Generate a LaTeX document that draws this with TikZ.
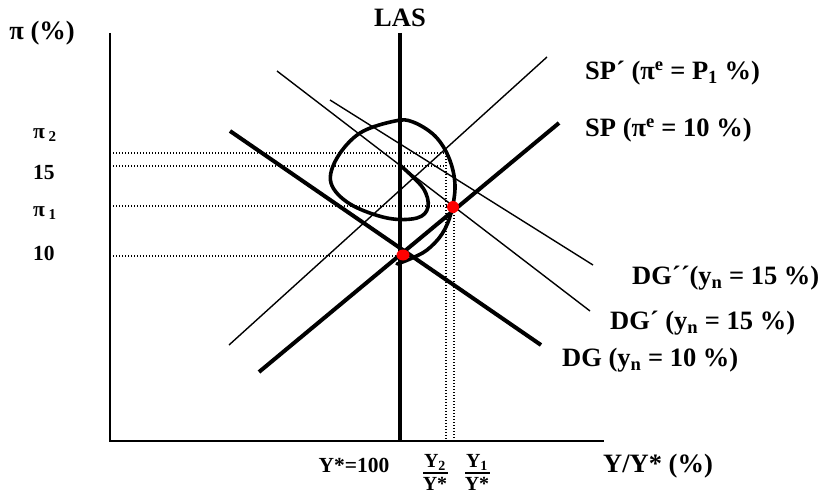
\documentclass[tikz,border=0pt]{standalone}
\usepackage{fontspec}
\setmainfont{Liberation Serif}
\begin{document}
\begin{tikzpicture}[x=1pt,y=-1pt,
  axis/.style={line width=2.2pt},
  thickline/.style={line width=4pt},
  thinline/.style={line width=1.4pt},
  dotline/.style={line width=1.3pt,dash pattern=on 1.3pt off 1.7pt},
  biglab/.style={font=\bfseries\fontsize{26.5}{30}\selectfont,inner sep=0pt},
  ticklab/.style={font=\bfseries\fontsize{21.5}{24}\selectfont,inner sep=0pt},
  fraclab/.style={font=\bfseries\fontsize{20}{22}\selectfont,inner sep=0pt},
  fracbar/.style={line width=1.6pt},
  reddot/.style={fill=red}]
\useasboundingbox (0,0) rectangle (819,495);

% axes
\coordinate (ytop) at (110,33);
\coordinate (orig) at (110,441);
\coordinate (xend) at (604,441);
\draw[axis] (ytop) -- (orig) -- (xend);

% LAS
\coordinate (lasT) at (400,33);
\coordinate (lasB) at (400,441);
\draw[thickline] (lasT) -- (lasB);

% dotted guides
\coordinate (p2L) at (113,153); \coordinate (p2R) at (446,153);
\coordinate (f15L) at (113,166); \coordinate (f15R) at (446,166);
\coordinate (p1L) at (113,206); \coordinate (p1R) at (454,206);
\coordinate (t10L) at (113,256); \coordinate (t10R) at (400,256);
\draw[dotline] (p2L) -- (p2R);
\draw[dotline] (f15L) -- (f15R);
\draw[dotline] (p1L) -- (p1R);
\draw[dotline] (t10L) -- (t10R);
\coordinate (y2B) at (446,439); \coordinate (y1B) at (454,439);
\draw[dotline] (p2R) -- (y2B);
\draw[dotline] (p1R) -- (y1B);

% SP curves
\coordinate (spA) at (259,372); \coordinate (spB) at (559,123);
\draw[thickline] (spA) -- (spB);
\coordinate (sppA) at (229,345); \coordinate (sppB) at (547,57);
\draw[thinline] (sppA) -- (sppB);

% DG curves
\coordinate (dgA) at (230,131); \coordinate (dgB) at (541,345);
\draw[thickline] (dgA) -- (dgB);
\coordinate (dgpA) at (277,71); \coordinate (dgpB) at (590,311);
\draw[thinline] (dgpA) -- (dgpB);
\coordinate (dgppA) at (330,100); \coordinate (dgppB) at (593,265);
\draw[thinline] (dgppA) -- (dgppB);

% loop
\draw[line width=3.6pt,line join=round,line cap=round] plot[smooth,tension=0.6] coordinates {
 (401,166) (423,188) (428,207) (417,218) (387,218) (350,204) (331,183)
 (337,158) (360,133) (395,121) (413,122) (435,136) (449,158) (455,185)
 (451,213) (442,234) (427,250) (410,259) (397,264)};

% red points
\fill[reddot] (403,255) ellipse (6.5 and 5.5);
\fill[reddot] (453,207) ellipse (6 and 6);

% labels
\node[biglab] (pilab) at (42,33) {π (\%)};
\node[biglab] (laslab) at (400,18) {LAS};
\node[ticklab,anchor=west] (pi2) at (33,135) {π\,\textsubscript{2}};
\node[ticklab,anchor=west] (l15) at (33,173) {15};
\node[ticklab,anchor=west] (pi1) at (33,213) {π\,\textsubscript{1}};
\node[ticklab,anchor=west] (l10) at (33,253) {10};

\node[biglab,anchor=west] (splp) at (585,73) {SP´ (π\textsuperscript{e} = P\textsubscript{1} \%)};
\node[biglab,anchor=west] (spl) at (585,130) {SP (π\textsuperscript{e} = 10 \%)};
\node[biglab,anchor=west] (dgpp) at (632,278) {DG´´(y\textsubscript{n} = 15 \%)};
\node[biglab,anchor=west] (dgp) at (610,323) {DG´ (y\textsubscript{n} = 15 \%)};
\node[biglab,anchor=west] (dgl) at (562,360) {DG (y\textsubscript{n} = 10 \%)};

\node[ticklab] (ystar) at (354,465) {Y*=100};
% fractions Y2/Y* and Y1/Y*
\coordinate (b2L) at (423,473); \coordinate (b2R) at (448,473);
\coordinate (b1L) at (465,473); \coordinate (b1R) at (490,473);
\node[fraclab,anchor=base] (y2n) at (435,467) {Y\textsubscript{2}};
\node[fraclab,anchor=base] (y2d) at (435,490) {Y*};
\draw[fracbar] (b2L) -- (b2R);
\node[fraclab,anchor=base] (y1n) at (477,467) {Y\textsubscript{1}};
\node[fraclab,anchor=base] (y1d) at (477,490) {Y*};
\draw[fracbar] (b1L) -- (b1R);
\node[biglab,anchor=west] (xlab) at (603,466) {Y/Y* (\%)};
\end{tikzpicture}
\end{document}
